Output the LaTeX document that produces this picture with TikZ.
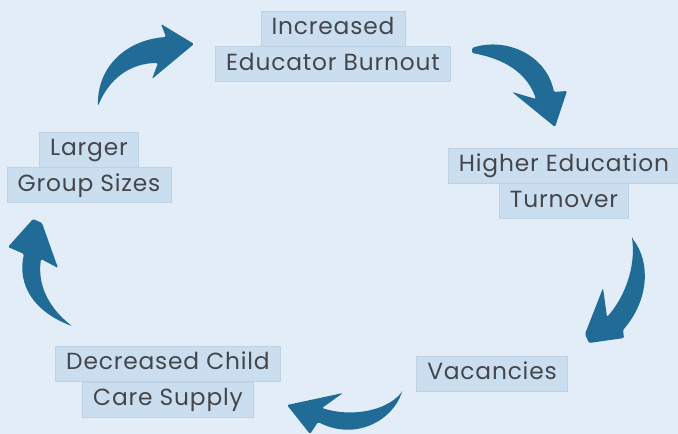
\documentclass[tikz,border=0pt]{standalone}
\usepackage{fontspec}
\setmainfont{Poppins}[LetterSpace=3.5]
\usetikzlibrary{positioning}
\definecolor{bgblue}{HTML}{E2EDF7}
\definecolor{boxblue}{HTML}{CADEEF}
\definecolor{boxedge}{HTML}{BFD2E3}
\definecolor{inkgray}{HTML}{45464C}
\definecolor{arrowblue}{HTML}{216C97}

\begin{document}
\begin{tikzpicture}[x=0.75pt,y=-0.75pt,node distance=0pt,
	lbl/.style={fill=boxblue,draw=boxedge,line width=0.4pt,text=inkgray,font=\fontsize{17.5}{20}\selectfont,inner xsep=8pt,inner ysep=0pt,minimum height=26.25pt,text height=12.5pt,text depth=3.5pt},
	sweep/.style={fill=arrowblue,rounded corners=1pt}]
	
	\fill[bgblue] (0,0) rectangle (678,434);
	\useasboundingbox (0,0) rectangle (678,434);
	
	\node[lbl] (burn1) at (333,28.5) {Increased};
	\node[lbl, below=of burn1] (burn2) {Educator Burnout};
	\node[lbl] (turn1) at (564,165.5) {Higher Education};
	\node[lbl, below=of turn1] (turn2) {Turnover};
	\node[lbl] (vac) at (492,373.5) {Vacancies};
	\node[lbl] (supply1) at (168,364) {Decreased Child};
	\node[lbl, below=of supply1] (supply2) {Care Supply};
	\node[lbl] (group1) at (89,149.5) {Larger};
	\node[lbl, below=of group1] (group2) {Group Sizes};
	
	% brush arrows round the cycle
	\fill[sweep] (98,106) .. controls (97,68) and (125,40) .. (166,37) -- (161,24) -- (194,44) -- (152,79) -- (158,63) .. controls (130,63) and (109,79) .. (98,106) -- cycle;
	\fill[sweep] (472,48) .. controls (505,37) and (546,54) .. (554,92) -- (567,91) -- (555,127) -- (512,92) -- (536,99) .. controls (527,73) and (505,59) .. (472,53) -- cycle;
	\fill[sweep] (632,238) .. controls (651,262) and (649,300) .. (623,330) -- (624,338) -- (589,343) -- (585,334) -- (603,288) -- (607,317) .. controls (624,298) and (636,268) .. (632,238) -- cycle;
	\fill[sweep] (402,392) .. controls (392,421) and (355,441) .. (318,422) -- (310,434) -- (287,405) -- (343,393) -- (322,408) .. controls (350,417) and (385,412) .. (402,392) -- cycle;
	\fill[sweep] (72,326) .. controls (34,312) and (17,285) .. (24,254) -- (8,247) -- (33,219) -- (42,223) -- (58,268) -- (41,259) .. controls (37,286) and (50,309) .. (72,326) -- cycle;
\end{tikzpicture}
\end{document}
